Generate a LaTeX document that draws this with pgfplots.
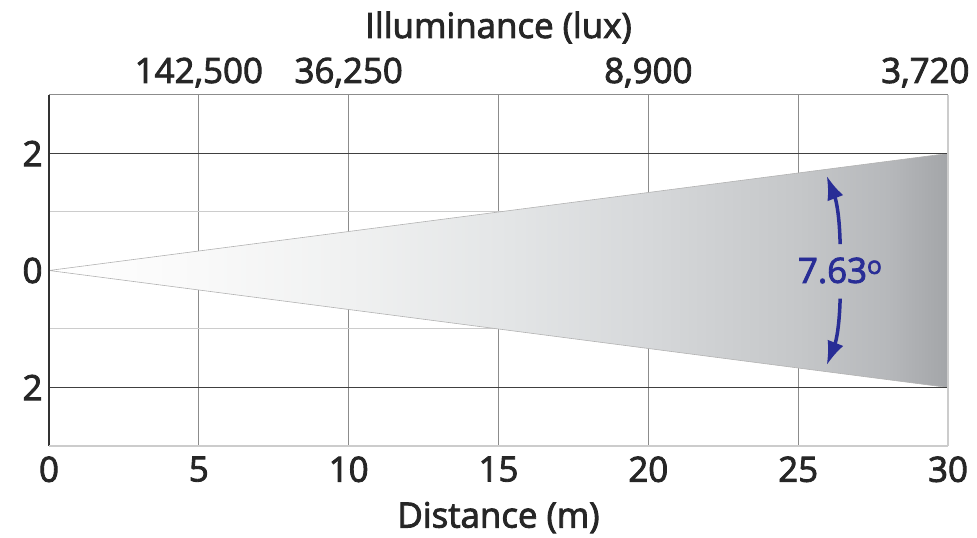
\documentclass[border=0pt]{standalone}
\usepackage{pgfplots}
\pgfplotsset{compat=1.18}
\usetikzlibrary{arrows.meta}
\usepackage{fontspec}
\setmainfont{Open Sans}[FakeBold=2.5]
\definecolor{beamend}{RGB}{163,165,168}
\definecolor{arrowblue}{RGB}{40,45,150}
\definecolor{bA}{RGB}{255,255,255}
\definecolor{bB}{RGB}{249,249,249}
\definecolor{bC}{RGB}{240,241,241}
\definecolor{bD}{RGB}{228,230,231}
\definecolor{bE}{RGB}{214,216,218}
\definecolor{bF}{RGB}{197,199,201}
\definecolor{bG}{RGB}{182,184,187}
\definecolor{bH}{RGB}{163,165,168}
\pgfdeclarehorizontalshading{beamshade}{100bp}{color(0bp)=(bA); color(25bp)=(bA); color(33.33bp)=(bB); color(41.67bp)=(bC); color(50bp)=(bD); color(58.33bp)=(bE); color(66.67bp)=(bF); color(71.67bp)=(bG); color(75bp)=(bH); color(100bp)=(bH)}
\begin{document}
\begin{tikzpicture}[x=1bp,y=1bp]
\useasboundingbox (0,0) rectangle (977,538);
\begin{axis}[
  at={(49bp,92bp)}, anchor=south west,
  scale only axis, width=899bp, height=351bp,
  xmin=0, xmax=30, ymin=-3, ymax=3,
  xtick={0,5,10,15,20,25,30},
  ytick={-2,0,2}, yticklabels={2,0,2},
  minor ytick={-1,1},
  grid=both,
  major grid style={line width=1bp, draw=black!45},
  minor grid style={line width=1bp, draw=black!20},
  major tick length=0pt, minor tick length=0pt,
  axis line style={draw=none},
  /pgf/number format/assume math mode=true,
  tick label style={font=\fontsize{35}{40}\selectfont, text=black!85},
  xticklabel style={yshift=-7bp},
  yticklabel style={xshift=-3bp},
  xlabel={Distance (m)},
  xlabel style={font=\fontsize{35}{40}\selectfont, text=black!85, yshift=-13bp},
  clip=false,
  axis on top=false,
]
\addplot[draw=black!30, line width=0.6bp, shading=beamshade] coordinates {(0,0) (30,2) (30,-2) (0,0)};
% darker lines at +-2 and frame
\draw[black!75, line width=1bp] (axis cs:0,2) -- (axis cs:30,2);
\draw[black!75, line width=1bp] (axis cs:0,-2) -- (axis cs:30,-2);
\draw[black!80, line width=1.2bp] (axis cs:0,-3) -- (axis cs:0,3);
\draw[black!45, line width=1bp] (axis cs:0,3) -- (axis cs:30,3);
\draw[black!20, line width=1.2bp] (axis cs:0,-3) -- (axis cs:30,-3);
\draw[black!20, line width=1.2bp] (axis cs:30,-3) -- (axis cs:30,3);
% top labels
\node[anchor=base, font=\fontsize{35}{40}\selectfont, text=black!85] at (axis cs:5,3) [yshift=12bp] {142,500};
\node[anchor=base, font=\fontsize{35}{40}\selectfont, text=black!85] at (axis cs:10,3) [yshift=12bp] {36,250};
\node[anchor=base, font=\fontsize{35}{40}\selectfont, text=black!85] at (axis cs:20,3) [yshift=12bp] {8,900};
\node[anchor=base east, font=\fontsize{35}{40}\selectfont, text=black!85] at (axis cs:30,3) [yshift=12bp, xshift=25bp] {3,720};
\node[anchor=base, font=\fontsize{35}{40}\selectfont, text=black!85] at (axis cs:15,3) [yshift=57bp] {Illuminance (lux)};
% angle annotation
\node[font=\fontsize{35}{40}\selectfont, text=arrowblue] at (axis cs:26.4,0) {7.63\textsuperscript{o}};
\draw[arrowblue, line width=3.5bp, -{Latex[length=24bp,width=17bp]}] (axis cs:26.4,0.45) to[bend right=10] (axis cs:25.95,1.62);
\draw[arrowblue, line width=3.5bp, -{Latex[length=24bp,width=17bp]}] (axis cs:26.4,-0.48) to[bend left=10] (axis cs:25.95,-1.62);
\end{axis}
\end{tikzpicture}
\end{document}
